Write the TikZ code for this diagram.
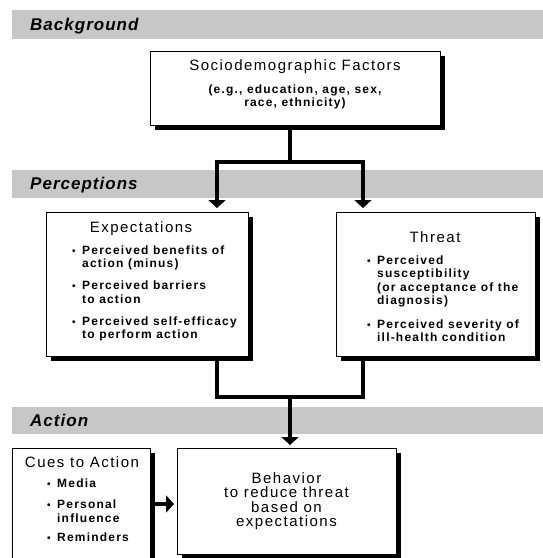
\documentclass[tikz,border=0pt]{standalone}
\usepackage{fontspec}
\setmainfont{Liberation Sans}
\newfontfamily\lsfont{Liberation Sans}[LetterSpace=10]
\newfontfamily\bandfontfam{Liberation Sans}[LetterSpace=6]
\usetikzlibrary{arrows.meta,shadows,calc}
\newcommand\fttl{\lsfont\fontsize{15}{14.5}\selectfont}
\newcommand\fbod{\lsfont\bfseries\fontsize{12}{13.5}\selectfont}
\newcommand\fband{\bandfontfam\bfseries\itshape\fontsize{17}{17}\selectfont}
\newcommand\bul{\makebox[10pt][l]{\fontsize{10}{10}\selectfont •}}
\begin{document}
\begin{tikzpicture}[x=1pt,y=-1pt,
 band/.style={fill=black!22},
 bandlabel/.style={anchor=base west,inner sep=0pt,font=\fband},
 box/.style={draw=black,line width=0.9pt,fill=white,inner sep=0pt,outer sep=0pt,
   drop shadow={shadow xshift=4.5pt,shadow yshift=-4.5pt,fill=black,opacity=1}},
 ttl/.style={anchor=base,inner sep=0pt,font=\fttl},
 lst/.style={anchor=base west,inner sep=0pt,font=\fbod},
 conn/.style={line width=4pt,line join=miter},
 arr/.style={-{Triangle[width=17pt,length=8pt]}},
]
\useasboundingbox (0,0) rectangle (543,558);

% bands
\fill[band] (12,10) rectangle (543,39);
\fill[band] (12,170) rectangle (543,198);
\fill[band] (12,407) rectangle (543,434);
\node[bandlabel] (lbg) at (30,30) {Background};
\node[bandlabel] (lpe) at (30,189) {Perceptions};
\node[bandlabel] (lac) at (30,426) {Action};

% boxes
\node[box,minimum width=290pt,minimum height=74pt] (soc) at (295,88) {};
\node[box,minimum width=202pt,minimum height=144pt] (exp) at (147,284) {};
\node[box,minimum width=199pt,minimum height=144pt] (thr) at (435.5,284) {};
\node[box,minimum width=138pt,minimum height=124pt] (cues) at (81,510) {};
\node[box,minimum width=219pt,minimum height=106pt,align=center,font=\fttl] (beh) at (286.5,501)
  {Behavior\\to reduce threat\\based on\\expectations};

% texts
\node[ttl] (socT) at (295,70) {Sociodemographic Factors};
\node[lst,anchor=base] (socS) at (295,93)
  {\begin{tabular}[t]{@{}c@{}}(e.g., education, age, sex,\\race, ethnicity)\end{tabular}};

\node[ttl] (expT) at (141,232) {Expectations};
\node[lst] (expL) at (72,254)
  {\begin{tabular}[t]{@{}l@{}l@{}}
  \bul & Perceived benefits of\\
       & action (minus)\\[8.5pt]
  \bul & Perceived barriers\\
       & to action\\[8.5pt]
  \bul & Perceived self-efficacy\\
       & to perform action
  \end{tabular}};

\node[ttl] (thrT) at (435,242) {Threat};
\node[lst] (thrL) at (367,264)
  {\begin{tabular}[t]{@{}l@{}l@{}}
  \bul & Perceived\\
       & susceptibility\\
       & (or acceptance of the\\
       & diagnosis)\\[10pt]
  \bul & Perceived severity of\\
       & ill-health condition
  \end{tabular}};

\node[ttl] (cueT) at (82,467) {Cues to Action};
\node[lst] (cueL) at (47,487)
  {\begin{tabular}[t]{@{}l@{}l@{}}
  \bul & Media\\[8pt]
  \bul & Personal\\
       & influence\\[6pt]
  \bul & Reminders
  \end{tabular}};

% connectors
\coordinate (jT) at (290,162);
\coordinate (jL) at (217,162);
\coordinate (jR) at (363,162);
\coordinate (jB) at (290,397);
\coordinate (ca) at (150,504);
\draw[conn] (soc.south -| jT) -- (jT);
\draw[conn,arr,shorten >=4pt] (jT) -- (jL) -- (exp.north -| jL);
\draw[conn,arr,shorten >=4pt] (jT) -- (jR) -- (thr.north -| jR);
\draw[conn] (exp.south -| jL) -- (jL |- jB) -- (jR |- jB) -- (thr.south -| jR);
\draw[conn,arr,shorten >=3pt] (jB) -- (beh.north -| jB);
\draw[conn,arr,shorten >=3pt] (cues.east |- ca) -- (beh.west |- ca);
\end{tikzpicture}
\end{document}
